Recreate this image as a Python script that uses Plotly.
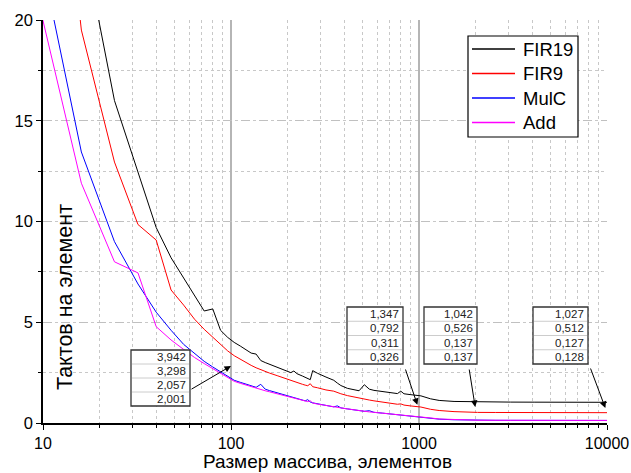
import math
import plotly.graph_objects as go

# ---------------- data ----------------
sizes = [8, 16, 24, 32, 40, 48, 56, 64, 72, 80,
         88, 96, 104, 112, 120, 128, 136, 144, 152, 160,
         176, 192, 208, 216, 224, 240, 248, 256, 264, 272,
         288, 320, 352, 368, 384, 416, 448, 480, 512, 544,
         576, 640, 704, 768, 800, 832, 896, 960, 1024, 1152,
         1280, 1536, 1792, 2048, 2560, 3072, 4096, 5120, 6144, 8192,
         10000]

fir19 = [40.0, 24.4, 16.0, 12.4, 9.7, 8.2, 7.2, 6.3, 5.56, 5.66,
         4.6, 4.25, 4.0, 3.82, 3.63, 3.47, 3.42, 3.1, 3.0, 2.92,
         2.76, 2.62, 2.5, 2.58, 2.45, 2.33, 2.27, 2.2, 2.15, 2.6,
         2.47, 2.28, 2.12, 1.98, 1.86, 1.72, 1.66, 1.6, 1.9, 1.68,
         1.62, 1.56, 1.5, 1.46, 1.58, 1.45, 1.41, 1.38, 1.347, 1.2,
         1.12, 1.07, 1.055, 1.042, 1.04, 1.037, 1.034, 1.032, 1.03, 1.028,
         1.027]

fir9 = [45.0, 19.5, 12.95, 9.85, 9.08, 6.6, 5.85, 5.15, 4.65, 4.25,
        3.9, 3.58, 3.34, 3.16, 3.0, 2.86, 2.74, 2.64, 2.56, 2.48,
        2.35, 2.22, 2.1, 2.05, 2.0, 1.92, 1.88, 1.85, 1.95, 1.8,
        1.75, 1.64, 1.58, 1.5, 1.45, 1.36, 1.29, 1.23, 1.2, 1.14,
        1.1, 1.03, 0.97, 0.93, 0.95, 0.89, 0.85, 0.82, 0.792, 0.68,
        0.62, 0.565, 0.54, 0.526, 0.522, 0.52, 0.518, 0.516, 0.515, 0.513,
        0.512]

mulc = [27.0, 13.45, 9.0, 6.9, 5.5, 4.6, 3.9, 3.44, 3.06, 2.78,
        2.55, 2.3, 2.12, 2.02, 1.93, 1.85, 1.77, 1.92, 1.68, 1.61,
        1.5, 1.4, 1.31, 1.27, 1.22, 1.14, 1.1, 1.16, 1.04, 1.0,
        0.95, 0.87, 0.8, 0.85, 0.75, 0.7, 0.65, 0.61, 0.58, 0.61,
        0.53, 0.49, 0.45, 0.42, 0.41, 0.39, 0.36, 0.34, 0.311, 0.24,
        0.19, 0.16, 0.145, 0.137, 0.134, 0.132, 0.131, 0.13, 0.129, 0.128,
        0.127]

add = [23.8, 11.9, 8.0, 7.45, 4.78, 4.12, 3.65, 3.25, 2.95, 2.7,
       2.48, 2.26, 2.07, 1.97, 1.88, 1.8, 1.72, 1.65, 1.6, 1.55,
       1.45, 1.36, 1.28, 1.24, 1.2, 1.13, 1.09, 1.06, 1.1, 0.99,
       0.94, 0.86, 0.8, 0.77, 0.75, 0.7, 0.65, 0.61, 0.58, 0.55,
       0.53, 0.49, 0.45, 0.42, 0.41, 0.39, 0.37, 0.35, 0.326, 0.25,
       0.2, 0.162, 0.146, 0.137, 0.135, 0.133, 0.131, 0.13, 0.129, 0.128,
       0.128]

series_names = ["FIR19", "FIR9", "MulC", "Add"]
series_values = [fir19, fir9, mulc, add]
series_colors = ["#000000", "#ff0000", "#0000ff", "#ff00ff"]

x_tick_vals = [10, 100, 1000, 10000]
x_tick_text = ["10", "100", "1000", "10000"]
y_tick_vals = [0, 5, 10, 15, 20]
y_tick_text = ["0", "5", "10", "15", "20"]

table_values = [["3,942", "3,298", "2,057", "2,001"],
                ["1,347", "0,792", "0,311", "0,326"],
                ["1,042", "0,526", "0,137", "0,137"],
                ["1,027", "0,512", "0,127", "0,128"]]
arrow_sizes = [100, 980, 1990, 9800]
arrow_values = [2.83, 0.9, 0.8, 0.74]

x_title = "Размер массива, элементов"
y_title = "Тактов на элемент"

# ---------------- layout helpers ----------------
W, H = 631, 473
L, R, T, B = 43, 607, 20, 423


def pxx(p):
    return (p - L) / (R - L)


def pxy(p):
    return (B - p) / (B - T)


FONT = "Liberation Sans, Arial, sans-serif"

fig = go.Figure()
for name, vals, col in zip(series_names, series_values, series_colors):
    fig.add_trace(go.Scatter(x=sizes, y=vals, mode="lines", name=name,
                             line=dict(color=col, width=1), showlegend=False))

shapes = []
annotations = []

# legend box drawn in pixel positions
lg_x0, lg_x1, lg_y0, lg_y1 = 468, 578, 36, 137
shapes.append(dict(type="rect", xref="paper", yref="paper",
                   x0=pxx(lg_x0), x1=pxx(lg_x1), y0=pxy(lg_y1), y1=pxy(lg_y0),
                   fillcolor="white", line=dict(color="black", width=1.2), layer="above"))
for i, (name, col) in enumerate(zip(series_names, series_colors)):
    yc = 49 + 24.5 * i
    shapes.append(dict(type="line", xref="paper", yref="paper",
                       x0=pxx(472), x1=pxx(515), y0=pxy(yc), y1=pxy(yc),
                       line=dict(color=col, width=1.3), layer="above"))
    annotations.append(dict(xref="paper", yref="paper", x=pxx(521), y=pxy(yc),
                            xanchor="left", yanchor="middle", text=name, showarrow=False,
                            font=dict(family=FONT, size=18.5, color="black")))

# table boxes (pixel boxes: x0, x1, y0, y1)
boxes = [(131, 190, 350, 406), (347, 403, 307, 364),
         (424, 477, 307, 364), (533, 588, 307, 364)]
tails = [(190, 390), (405, 368), (469, 368), (590, 367)]

for bi, (bx0, bx1, by0, by1) in enumerate(boxes):
    shapes.append(dict(type="rect", xref="paper", yref="paper",
                       x0=pxx(bx0), x1=pxx(bx1), y0=pxy(by1), y1=pxy(by0),
                       fillcolor="white", line=dict(color="#333333", width=1.3),
                       layer="above"))
    rh = (by1 - by0) / 4.0
    for r in range(1, 4):
        yy = by0 + r * rh
        shapes.append(dict(type="line", xref="paper", yref="paper",
                           x0=pxx(bx0 + 1), x1=pxx(bx1 - 1), y0=pxy(yy), y1=pxy(yy),
                           line=dict(color="#cccccc", width=1), layer="above"))
    for r, txt in enumerate(table_values[bi]):
        yc = by0 + (r + 0.5) * rh
        annotations.append(dict(xref="paper", yref="paper", x=pxx(bx1 - 2), y=pxy(yc),
                                xanchor="right", yanchor="middle", text=txt,
                                showarrow=False,
                                font=dict(family=FONT, size=11.5, color="#222222")))

# arrows
for i, (n, v) in enumerate(zip(arrow_sizes, arrow_values)):
    ax_t, ay_t = tails[i]
    tipx = L + (math.log10(n) - 1) / 3.0 * (R - L)
    tipy = B - v / 20.0 * (B - T)
    annotations.append(dict(x=math.log10(n), y=v, xref="x", yref="y",
                            ax=ax_t - tipx, ay=ay_t - tipy,
                            text="", showarrow=True, arrowhead=2, arrowsize=1.3,
                            arrowwidth=1, arrowcolor="black", standoff=0,
                            startstandoff=0))

# axis titles
annotations.append(dict(xref="paper", yref="paper", x=pxx(327), y=pxy(462),
                        xanchor="center", yanchor="middle", text=x_title,
                        showarrow=False, font=dict(family=FONT, size=19, color="black")))
annotations.append(dict(xref="paper", yref="paper", x=pxx(65), y=pxy(297),
                        xanchor="center", yanchor="middle", text=y_title, textangle=-90,
                        showarrow=False, font=dict(family=FONT, size=21.5, color="black")))

fig.update_layout(
    width=W, height=H, autosize=False,
    margin=dict(l=L, r=W - R, t=T, b=H - B, pad=0, autoexpand=False),
    paper_bgcolor="white", plot_bgcolor="white",
    font=dict(family=FONT, color="black"),
    showlegend=False,
    shapes=shapes, annotations=annotations,
    xaxis=dict(type="log", range=[1, 4], tickmode="array", automargin=False,
               tickvals=x_tick_vals, ticktext=x_tick_text,
               ticks="outside", ticklen=5, tickwidth=1.3, tickcolor="black",
               showline=True, linecolor="black", linewidth=1.6,
               showgrid=True, gridcolor="#b5b5b5", gridwidth=2,
               zeroline=False,
               tickfont=dict(family=FONT, size=16, color="black"),
               minor=dict(ticks="outside", ticklen=3.5, tickwidth=1, tickcolor="black",
                          dtick="D1", showgrid=True, gridcolor="#c8c8c8",
                          griddash="dot", gridwidth=1)),
    yaxis=dict(range=[0, 20], tickmode="array", tickvals=y_tick_vals, ticktext=y_tick_text,
               automargin=False,
               ticks="outside", ticklen=5, tickwidth=1.3, tickcolor="black",
               showline=True, linecolor="black", linewidth=1.6,
               showgrid=True, gridcolor="#c0c0c0", gridwidth=1, griddash="dash",
               zeroline=False,
               tickfont=dict(family=FONT, size=16.5, color="black"),
               minor=dict(ticks="outside", ticklen=3.5, tickwidth=1, tickcolor="black",
                          dtick=2.5, tick0=0, showgrid=True, gridcolor="#c8c8c8",
                          griddash="dot", gridwidth=1)),
)

fig.write_html("out.html", config={"displayModeBar": False},
               post_script="document.body.style.margin='0';document.body.style.padding='0';")
